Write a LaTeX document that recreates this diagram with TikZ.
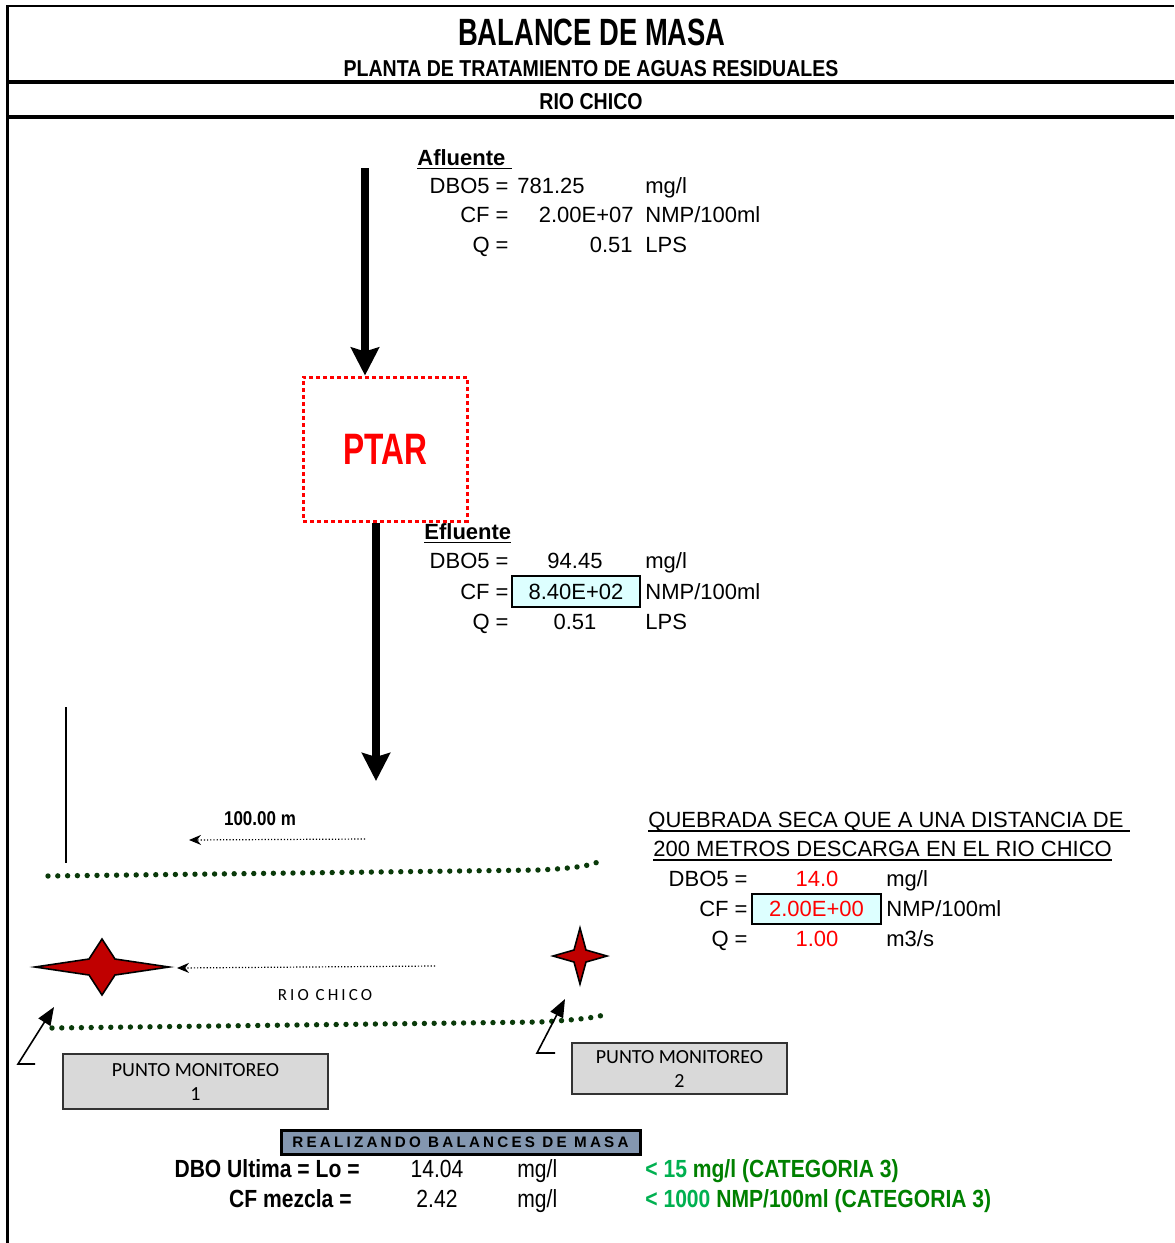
\documentclass[tikz,border=0pt]{standalone}
\usepackage{fontspec}
\setmainfont{Liberation Sans}
\newfontfamily\narrowfont[FakeStretch=0.85]{Liberation Sans}
\newfontfamily\titlefont[FakeStretch=0.72]{Liberation Sans}
\newfontfamily\calfont{Carlito}
\usepackage{tikz}
\usetikzlibrary{arrows.meta,positioning,calc}
\definecolor{cRed}{HTML}{FF0000}
\definecolor{cStar}{HTML}{C00000}
\definecolor{cCell}{HTML}{DDFFFF}
\definecolor{cRiver}{HTML}{0A3A0A}
\definecolor{cBox}{HTML}{D9D9D9}
\definecolor{cSlate}{HTML}{8497B0}
\definecolor{cGreen}{HTML}{00B050}
\definecolor{cDkGreen}{HTML}{008000}
\tikzset{
  title/.style={font=\titlefont\bfseries\fontsize{19}{22}\selectfont, inner sep=0pt, anchor=base},
  subtitle/.style={font=\narrowfont\bfseries\fontsize{11.5}{13}\selectfont, inner sep=0pt, anchor=base},
  key/.style={font=\fontsize{11}{13}\selectfont, inner sep=0pt, anchor=base east},
  txt/.style={font=\fontsize{11}{13}\selectfont, inner sep=0pt, anchor=base west},
  num/.style={font=\fontsize{11}{13}\selectfont, inner sep=0pt, anchor=base},
  head/.style={font=\bfseries\fontsize{11}{13}\selectfont, inner sep=0pt, anchor=base west},
  cellbox/.style={draw=black, line width=1pt, fill=cCell, inner sep=0pt, font=\fontsize{11}{13}\selectfont},
  ptarbox/.style={draw=cRed, line width=1.5pt, dash pattern=on 2pt off 1.5pt, minimum width=82pt,
                  minimum height=72pt, text=cRed, font=\titlefont\bfseries\fontsize{22}{24}\selectfont},
  flow/.style={line width=4pt, -{Stealth[length=14pt,width=14pt,inset=2pt]}},
  darr/.style={line width=0.6pt, densely dotted, -{Stealth[length=6pt,width=5pt]}},
  marr/.style={line width=0.8pt, -{Triangle[length=9pt,width=7pt]}},
  river/.style={cRiver, line width=2.7pt, line cap=round, dash pattern=on 0pt off 4.9pt},
  starshp/.style={draw=black, line width=0.8pt, fill=cStar, line join=miter},
  mbox/.style={draw=black!80, line width=0.8pt, fill=cBox, align=center, inner sep=0pt,
               font=\calfont\fontsize{10}{12}\selectfont},
  nlbl/.style={font=\narrowfont\bfseries\fontsize{10}{12}\selectfont, inner sep=0pt, anchor=base},
  bkey/.style={font=\narrowfont\bfseries\fontsize{12.4}{14}\selectfont, inner sep=0pt, anchor=base east},
  bnum/.style={font=\narrowfont\fontsize{12.4}{14}\selectfont, inner sep=0pt, anchor=base},
  bunit/.style={font=\narrowfont\fontsize{12.4}{14}\selectfont, inner sep=0pt, anchor=base west},
  bnote/.style={font=\narrowfont\bfseries\fontsize{12.4}{14}\selectfont, inner sep=0pt, anchor=base west, text=cDkGreen},
  banner/.style={draw=black, line width=1.5pt, fill=cSlate, minimum width=179.5pt, minimum height=12pt,
                 inner sep=0pt, font=\bfseries\fontsize{7.6}{8}\selectfont\addfontfeatures{LetterSpace=21}}
}
% four point star: centre, half width, half height, inner x, inner y
\newcommand{\mstar}[5]{%
  \path[starshp] (#1) +(-#2,0) -- +(-#4,-#5) -- +(0,-#3) -- +(#4,-#5) -- +(#2,0)
    -- +(#4,#5) -- +(0,#3) -- +(-#4,#5) -- cycle;}
% heavier underline
\newcommand{\ulx}[1]{\setbox0\hbox{#1}\rlap{\rule[-2.2pt]{\wd0}{0.9pt}}\box0}

\begin{document}
\begin{tikzpicture}[x=0.5pt, y=-0.5pt]
\useasboundingbox (0,0) rectangle (1174,1243);
% frame and header
\draw[line width=1pt] (7,6) -- (1174,6);
\draw[line width=1.5pt] (7,5) -- (7,1243);
\draw[line width=2pt] (7,82) -- (1174,82);
\draw[line width=2pt] (7,117) -- (1174,117);
\node[title] (ttl) at (592,45) {BALANCE DE MASA};
\node[subtitle] (sub) at (591,76) {PLANTA DE TRATAMIENTO DE AGUAS RESIDUALES};
\node[subtitle] (rio) at (591,109) {RIO CHICO};
% afluente
\node[head] (af) at (417,165) {\ulx{Afluente\ }};
\node[key] (afk1) at (509,193.5) {DBO5 =};
\node[txt] (afv1) at (517,193.5) {781.25};
\node[txt] (afu1) at (645,193.5) {mg/l};
\node[key] (afk2) at (509,222.5) {CF =};
\node[key] (afv2) at (634,222.5) {2.00E+07};
\node[txt] (afu2) at (645,222.5) {NMP/100ml};
\node[key] (afk3) at (509,252.5) {Q =};
\node[key] (afv3) at (633,252.5) {0.51};
\node[txt] (afu3) at (645,252.5) {LPS};
% planta
\coordinate (afIn) at (365,168);
\node[ptarbox] (ptar) at (385,449) {PTAR};
\draw[flow] (afIn) -- (afIn |- ptar.north);
\coordinate (efOut) at (376,781);
\draw[flow] (efOut |- ptar.south) -- (efOut);
% efluente
\node[head] (ef) at (424,539) {\ulx{Efluente}};
\node[key] (efk1) at (509,568.5) {DBO5 =};
\node[num] (efv1) at (575,568.5) {94.45};
\node[txt] (efu1) at (645,568.5) {mg/l};
\node[key] (efk2) at (509,599.5) {CF =};
\node[cellbox, minimum width=64pt, minimum height=15.5pt] (efv2) at (576,591.5) {8.40E+02};
\node[txt] (efu2) at (645,599.5) {NMP/100ml};
\node[key] (efk3) at (509,629.5) {Q =};
\node[num] (efv3) at (575,629.5) {0.51};
\node[txt] (efu3) at (645,629.5) {LPS};
% distancia
\draw[line width=0.75pt] (66,707) -- (66,863);
\node[nlbl] (dist) at (260,825) {100.00 m};
\coordinate (d1) at (365,839);
\coordinate (d2) at (189,840);
\draw[darr] (d1) -- (d2);
% rio
\draw[river] (48,876) -- (540,870) .. controls (575,868) and (590,866) .. (600,861);
\draw[river] (52,1028) -- (540,1022) .. controls (575,1020) and (592,1018) .. (604,1015);
\coordinate (st1) at (102,967);
\coordinate (st2) at (580,956);
\mstar{st1}{67}{28}{13}{8}
\mstar{st2}{27}{28}{6}{6}
\coordinate (r1) at (435,966);
\draw[darr] (r1) -- ($(st1)+(75,1)$);
\node[font=\calfont\fontsize{8.5}{10}\selectfont\addfontfeatures{LetterSpace=18}, anchor=base] (rch) at (325,1000) {RIO CHICO};
% monitoreo
\node[mbox, minimum width=132.5pt, minimum height=27.5pt] (pm1) at (195.5,1081.5) {PUNTO MONITOREO\\1};
\node[mbox, minimum width=107.5pt, minimum height=25.5pt] (pm2) at (679.5,1068.5) {PUNTO MONITOREO\\2};
\coordinate (m1) at (35,1064);
\coordinate (m1t) at (54,1007);
\draw[marr] (m1) -- ++(-17,0) -- (m1t);
\coordinate (m2) at (555,1053);
\coordinate (m2t) at (565,999);
\draw[marr] (m2) -- ++(-18,0) -- (m2t);
% quebrada
\node[txt] (qb1) at (648,827.5) {\ulx{QUEBRADA SECA QUE A UNA DISTANCIA DE\ }};
\node[txt] (qb2) at (653,856.5) {\ulx{200 METROS DESCARGA EN EL RIO CHICO}};
\node[key] (qk1) at (748,886.5) {DBO5 =};
\node[num, text=cRed] (qv1) at (817,886.5) {14.0};
\node[txt] (qu1) at (886,886.5) {mg/l};
\node[key] (qk2) at (748,916.5) {CF =};
\node[cellbox, text=cRed, minimum width=64.5pt, minimum height=15pt] (qv2) at (816.5,909) {2.00E+00};
\node[txt] (qu2) at (886,916.5) {NMP/100ml};
\node[key] (qk3) at (748,946.5) {Q =};
\node[num, text=cRed] (qv3) at (817,946.5) {1.00};
\node[txt] (qu3) at (886,946.5) {m3/s};
% balance
\node[banner] (bal) at (460.5,1142) {REALIZANDO BALANCES DE MASA};
\node[bkey] (bk1) at (360,1177) {DBO Ultima = Lo =};
\node[bnum] (bv1) at (437,1177) {14.04};
\node[bunit] (bu1) at (517,1177) {mg/l};
\node[bnote] (bn1) at (645,1177) {\textcolor{cGreen}{< 15} mg/l (CATEGORIA 3)};
\node[bkey] (bk2) at (352,1207) {CF mezcla =};
\node[bnum] (bv2) at (437,1207) {2.42};
\node[bunit] (bu2) at (517,1207) {mg/l};
\node[bnote] (bn2) at (645,1207) {\textcolor{cGreen}{< 1000} NMP/100ml (CATEGORIA 3)};
\end{tikzpicture}
\end{document}
